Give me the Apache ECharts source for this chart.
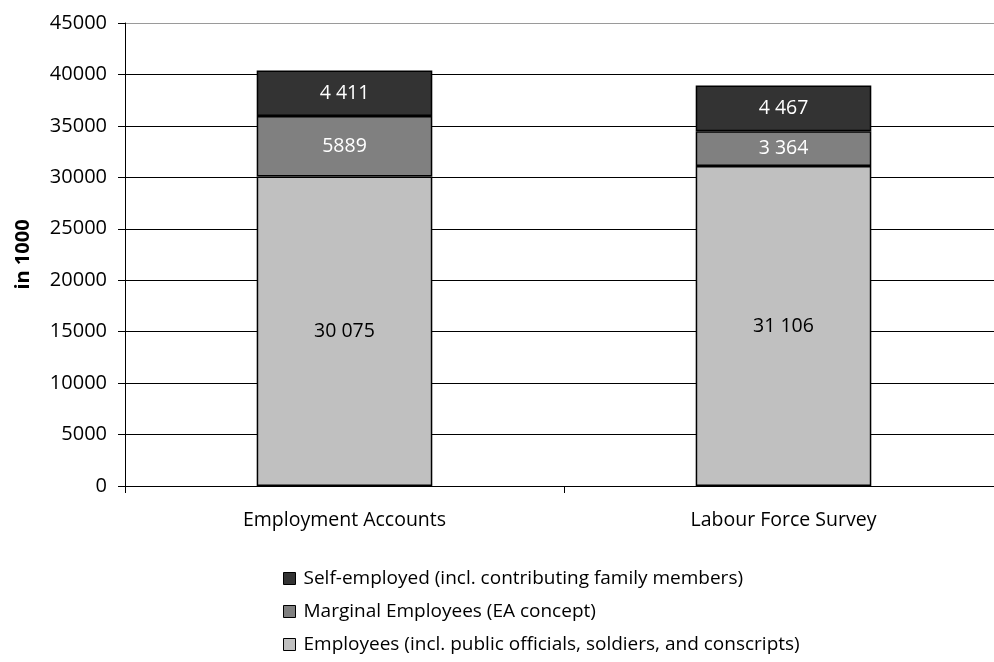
<!DOCTYPE html>
<html>
<head>
<meta charset="utf-8">
<script src="https://cdn.jsdelivr.net/npm/echarts@6/dist/echarts.min.js"></script>
<style>html,body{margin:0;padding:0;background:#fff;overflow:hidden;width:994px;height:662px}#c{width:1004px;height:662px}</style>
</head>
<body>
<div id="c"></div>
<script>
var categories = ['Employment Accounts', 'Labour Force Survey'];
var employees = [30075, 31106];
var marginal = [5889, 3364];
var selfEmployed = [4411, 4467];
var employeesLabels = ['30 075', '31 106'];
var marginalLabels = ['5889', '3 364'];
var selfLabels = ['4 411', '4 467'];
var yTicks = [0, 5000, 10000, 15000, 20000, 25000, 30000, 35000, 40000, 45000];
var names = ['Self-employed (incl. contributing family members)', 'Marginal Employees (EA concept)', 'Employees (incl. public officials, soldiers, and conscripts)'];

var font = 'Open Sans';
function mk(name, data, labels, color, textColor) {
  return {
    name: name, type: 'bar', stack: 's', data: data, barWidth: '40%',
    itemStyle: { color: color, borderColor: '#000', borderWidth: 1.5 },
    label: { show: true, position: 'inside', color: textColor, fontFamily: font, fontSize: 19.5,
      formatter: function (p) { return labels[p.dataIndex]; } }
  };
}
var chart = echarts.init(document.getElementById('c'));
chart.setOption({
  animation: false,
  grid: { left: 125, right: 1, top: 23, bottom: 176 },
  legend: {
    orient: 'vertical', left: 278, top: 564, itemGap: 14, itemWidth: 12, itemHeight: 12,
    icon: 'rect', data: names,
    itemStyle: { borderColor: '#000', borderWidth: 1 },
    textStyle: { fontFamily: font, fontSize: 19, color: '#000', padding: [0, 0, 0, 3] }
  },
  xAxis: {
    type: 'category', data: categories,
    axisLine: { lineStyle: { color: '#000', width: 1 } },
    axisTick: { show: true, length: 7, lineStyle: { color: '#000' } },
    axisLabel: { fontFamily: font, fontSize: 19.5, color: '#000', margin: 24 }
  },
  yAxis: {
    type: 'value', min: yTicks[0], max: yTicks[yTicks.length - 1], interval: 5000,
    name: 'in 1000', nameLocation: 'middle', nameGap: 92, nameRotate: 90,
    nameTextStyle: { fontFamily: font, fontSize: 20, fontWeight: 'bold', color: '#000' },
    axisLine: { show: true, lineStyle: { color: '#000', width: 1 } },
    axisTick: { show: true, length: 7, lineStyle: { color: '#000' } },
    axisLabel: { fontFamily: font, fontSize: 20, color: '#000', margin: 18,
      formatter: function (v) { return String(v); } },
    splitLine: { show: true, lineStyle: { color: ['#000', '#000', '#000', '#000', '#000', '#000', '#000', '#000', '#000', '#9a9a9a'], width: 1 } }
  },
  series: [
    mk(names[2], employees, employeesLabels, '#c0c0c0', '#000'),
    mk(names[1], marginal, marginalLabels, '#808080', '#fff'),
    mk(names[0], selfEmployed, selfLabels, '#333333', '#fff')
  ]
});
</script>
</body>
</html>
